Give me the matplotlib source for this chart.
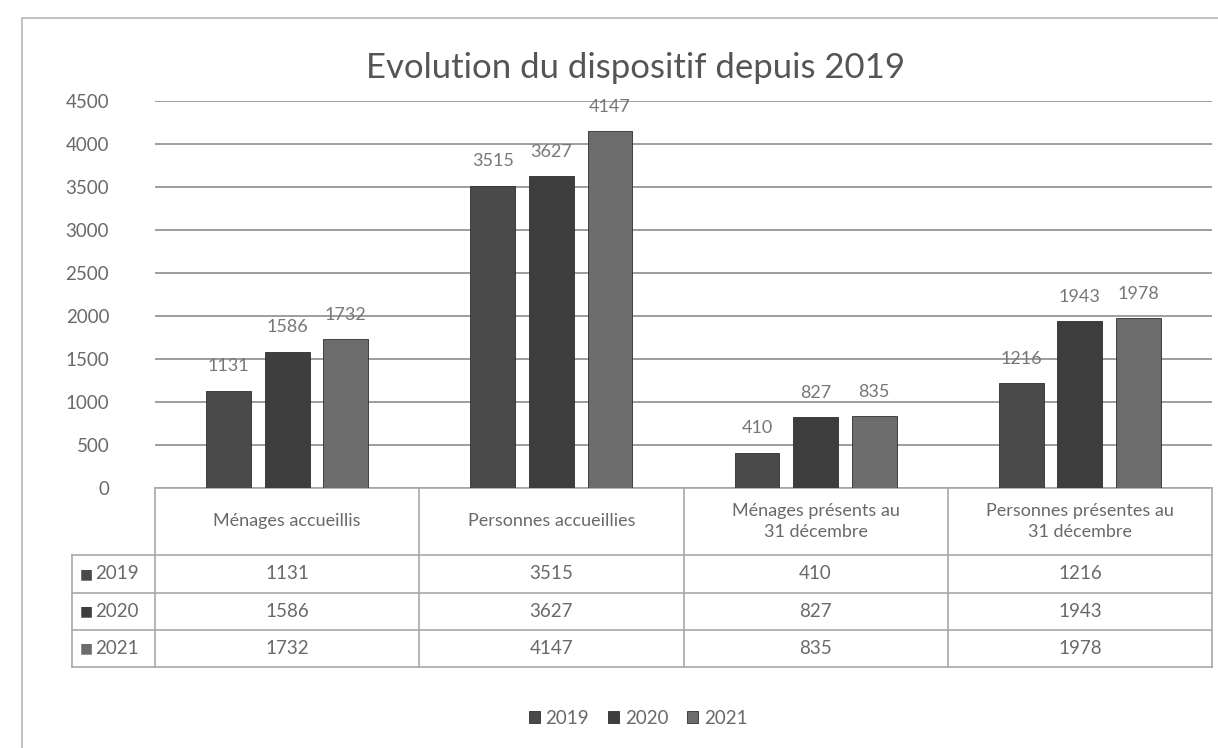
import numpy as np
import matplotlib
matplotlib.use("Agg")
import matplotlib.pyplot as plt
from matplotlib.patches import Rectangle

plt.rcParams['font.family'] = ['Lato', 'DejaVu Sans']

categories = ["Ménages accueillis", "Personnes accueillies",
              "Ménages présents au\n31 décembre", "Personnes présentes au\n31 décembre"]
years = ["2019", "2020", "2021"]
values_2019 = [1131, 3515, 410, 1216]
values_2020 = [1586, 3627, 827, 1943]
values_2021 = [1732, 4147, 835, 1978]
series = [values_2019, values_2020, values_2021]
colors = ["#4a4a4a", "#3e3e3e", "#6c6c6c"]
text_col = "#696969"
line_col = "#a8a8a8"

fig = plt.figure(figsize=(12.18, 7.48), dpi=100)
fig.patch.set_facecolor("white")
ax = fig.add_axes([155 / 1218, 1 - 488 / 748, 1057 / 1218, 387 / 748])

# outer frame of the chart area
fig.add_artist(Rectangle((22 / 1218, -0.05), 1.1, 1 - 18 / 748 + 0.05,
                         transform=fig.transFigure, fill=False,
                         edgecolor="#b5b5b5", linewidth=1.2))

x = np.arange(len(categories))
width = 0.17
step = 0.222
for i, (vals, c) in enumerate(zip(series, colors)):
    pos = x + (i - 1) * step
    bars = ax.bar(pos, vals, width, color=c, edgecolor="#2e2e2e",
                  linewidth=0.6, zorder=3, label=years[i])
    for b, v in zip(bars, vals):
        ax.text(b.get_x() + b.get_width() / 2, v + 190, str(v),
                ha="center", va="bottom", fontsize=13, color="#777777")

ax.set_xlim(-0.5, len(categories) - 0.5)
ax.set_ylim(0, 4500)
ax.set_yticks(np.arange(0, 4501, 500))
ax.yaxis.grid(True, color="#8c8c8c", linewidth=1.2, zorder=0)
ax.tick_params(axis="y", length=0, labelsize=13.5, labelcolor=text_col, pad=33)
ax.set_xticks([])
for s in ["top", "right", "left"]:
    ax.spines[s].set_visible(False)
ax.spines["bottom"].set_color(line_col)
ax.spines["bottom"].set_linewidth(1.2)

fig.text(635 / 1218, 1 - 68 / 748, "Evolution du dispositif depuis 2019",
         ha="center", va="center", fontsize=25, color="#555555")

# data table below the axis
row_bottoms = [-0.173, -0.271, -0.367, -0.463]
label_left = -83 / 1057
tkw = dict(transform=ax.transAxes, clip_on=False, color=line_col, linewidth=1.2)
for yb in row_bottoms:
    ax.plot([label_left, 1], [yb, yb], **tkw)
ax.plot([label_left, label_left], [row_bottoms[0], row_bottoms[-1]], **tkw)
for k in range(len(categories) + 1):
    xf = k / len(categories)
    ax.plot([xf, xf], [0, row_bottoms[-1]], **tkw)

for j, cat in enumerate(categories):
    xc = (j + 0.5) / len(categories)
    ax.text(xc, row_bottoms[0] / 2, cat, transform=ax.transAxes, ha="center",
            va="center", fontsize=13, color=text_col, linespacing=1.35)
    for i, vals in enumerate(series):
        yc = (row_bottoms[i] + row_bottoms[i + 1]) / 2
        ax.text(xc, yc, str(vals[j]), transform=ax.transAxes, ha="center",
                va="center", fontsize=13.5, color=text_col)

for i, yr in enumerate(years):
    yc = (row_bottoms[i] + row_bottoms[i + 1]) / 2
    ax.text(label_left + 0.007, yc, "\u25a0", transform=ax.transAxes,
            ha="left", va="center", fontsize=10, color=colors[i],
            family="DejaVu Sans")
    ax.text(label_left + 0.022, yc, yr, transform=ax.transAxes,
            ha="left", va="center", fontsize=13.5, color=text_col)

leg = fig.legend(loc="center", bbox_to_anchor=(638 / 1218, 1 - 718 / 748),
                 ncol=3, frameon=False, fontsize=13.5, handlelength=0.6,
                 handleheight=0.6, handletextpad=0.3, columnspacing=1.0)
for t in leg.get_texts():
    t.set_color(text_col)

fig.savefig("out.png", dpi=100)
